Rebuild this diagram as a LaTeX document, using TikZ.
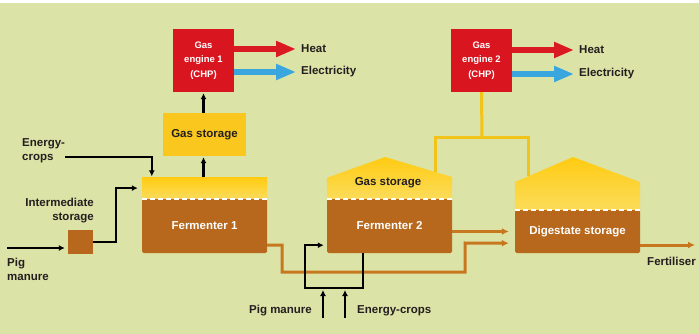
\documentclass[tikz,border=0pt]{standalone}
\usepackage{fontspec}
\setmainfont{Liberation Sans}
\usetikzlibrary{arrows.meta,positioning}
\definecolor{bggreen}{HTML}{DCE3A6}
\definecolor{chpred}{HTML}{D9161F}
\definecolor{heatred}{HTML}{DA1A22}
\definecolor{elecblue}{HTML}{3AA6DE}
\definecolor{storeyellow}{HTML}{FAC71E}
\definecolor{gasyellow}{HTML}{FFCB12}
\definecolor{gaslight}{HTML}{FBDC5A}
\definecolor{tankbrown}{HTML}{B8681D}
\definecolor{pipeorange}{HTML}{C7781F}
\definecolor{pipeyellow}{HTML}{F2C41A}
\definecolor{txtdark}{HTML}{231F20}
\begin{document}
\begin{tikzpicture}[x=1pt,y=-1pt,
  lbl/.style={font=\bfseries\fontsize{11.5}{14}\selectfont, text=txtdark, inner sep=1pt},
  chpbox/.style={fill=chpred, text=white, font=\bfseries\fontsize{9.5}{14.5}\selectfont, align=center, minimum width=61pt, minimum height=63pt, inner sep=0pt},
  storebox/.style={lbl, fill=storeyellow, minimum width=83pt, minimum height=43pt, inner sep=0pt},
  tankbody/.style={lbl, fill=tankbrown, text=white, rounded corners=1.5pt, minimum width=125pt, inner sep=0pt},
  tanktop/.style={top color=gasyellow, bottom color=gaslight, minimum width=125pt, minimum height=21pt, inner sep=0pt},
  feed/.style={draw=black, line width=2.2pt, -{Latex[length=6pt,width=6pt]}},
  pipe/.style={draw=pipeorange, line width=3pt, -{Latex[length=7pt,width=7pt]}},
  gaspipe/.style={draw=pipeyellow, line width=3pt},
  dashline/.style={draw=white, line width=1.5pt, dash pattern=on 5pt off 3pt},
  bigarrow/.style={line width=6pt, -{Triangle[length=20pt,width=15pt]}}]
\fill[white] (0,0) rectangle (699,334);
\fill[bggreen] (0,3) rectangle (699,334);

% gas engines and outputs
\node[chpbox] (engine1) at (203.5,60.5) {Gas\\engine 1\\(CHP)};
\node[chpbox] (engine2) at (481.5,60.5) {Gas\\engine 2\\(CHP)};
\node[lbl, anchor=west] (heat1) at (300,49) {Heat};
\node[lbl, anchor=west] (elec1) at (300,72) {Electricity};
\node[lbl, anchor=west] (heat2) at (578,50) {Heat};
\node[lbl, anchor=west] (elec2) at (578,74) {Electricity};
\draw[bigarrow, draw=heatred] (engine1.east |- heat1) -- ([xshift=-4pt]heat1.west);
\draw[bigarrow, draw=elecblue] (engine1.east |- elec1) -- ([xshift=-4pt]elec1.west);
\draw[bigarrow, draw=heatred] (engine2.east |- heat2) -- ([xshift=-4pt]heat2.west);
\draw[bigarrow, draw=elecblue] (engine2.east |- elec2) -- ([xshift=-4pt]elec2.west);

% fermenter 1
\node[storebox] (gas1) at (204.5,134.5) {Gas storage};
\node[tankbody, minimum height=54pt] (ferm1) at (204.5,226) {Fermenter 1};
\node[tanktop, above=0pt of ferm1] (ferm1gas) {};
\draw[dashline] (ferm1.north west) -- (ferm1.north east);
\draw[feed, shorten >=1pt] (ferm1gas.north -| engine1) -- (gas1.south -| engine1);
\draw[feed, shorten >=1pt] (gas1.north -| engine1) -- (engine1.south);

% inputs left
\node[fill=tankbrown, minimum width=25pt, minimum height=24pt, inner sep=0pt] (inter) at (80.5,242) {};
\node[lbl, align=right, anchor=south east] (interlbl) at (95,224) {Intermediate\\storage};
\node[lbl, align=left, anchor=north west] (pig1) at (6,257) {Pig\\manure};
\node[lbl, align=left, anchor=north west] (crops1) at (21,137) {Energy-\\crops};
\coordinate (pigin) at (7,248);
\coordinate (cropsin) at (65,157);
\draw[feed] (pigin) -- ([xshift=-3pt]inter.west |- pigin);
\draw[feed, shorten >=1pt] (cropsin) -| ([xshift=10pt]ferm1gas.north west);
\draw[feed, shorten >=4pt] (inter.east) -- ++(23,0) |- (ferm1gas.west);

% fermenter 2
\node[tankbody, minimum height=54pt] (ferm2) at (389.5,226) {Fermenter 2};
\shade[top color=gasyellow, bottom color=gaslight] (ferm2.north west) -- ++(0,-21) -- (385,157) -- (452,177) -- (ferm2.north east) -- cycle;
\draw[dashline] (ferm2.north west) -- (ferm2.north east);
\node[lbl] (gas2) at (388,183) {Gas storage};

% digestate storage
\node[tankbody, minimum height=43pt] (digest) at (577.5,231.5) {Digestate storage};
\shade[top color=gasyellow, bottom color=gaslight] (digest.north west) -- (515,182) -- (573,157) -- (640,182) -- (digest.north east) -- cycle;
\draw[dashline] (digest.north west) -- (digest.north east);

% gas pipes
\coordinate (gasjoin) at (482,138);
\draw[gaspipe] (435,172) |- (gasjoin) -| (528,176);
\draw[gaspipe] (gasjoin) -- (engine2.south);

% digestate pipes
\draw[pipe] ([yshift=8pt]ferm1.south east) -| (282,272) -| (465,243) -- ([yshift=10pt,xshift=-6pt]digest.south west);
\draw[pipe] (ferm2.east |- digest.west) -- ([xshift=-6pt]digest.west);
\coordinate (fertout) at (695,245);
\draw[pipe] (digest.east |- fertout) -- (fertout);
\node[lbl, anchor=north east] (fert) at (697,256) {Fertiliser};

% feed fermenter 2
\coordinate (feedL) at (305,288);
\coordinate (feedR) at (363,288);
\draw[feed] (ferm2.south -| feedR) -- (feedR) -- (feedL) |- ([yshift=8pt,xshift=-3pt]ferm2.south west);
\node[lbl, anchor=east] (pig2) at (313,311) {Pig manure};
\node[lbl, anchor=west] (crops2) at (356,311) {Energy-crops};
\coordinate (pigup) at (323,318);
\coordinate (cropsup) at (345,318);
\draw[feed, shorten >=2pt] (pigup) -- (pigup |- feedL);
\draw[feed, shorten >=2pt] (cropsup) -- (cropsup |- feedL);
\end{tikzpicture}
\end{document}
